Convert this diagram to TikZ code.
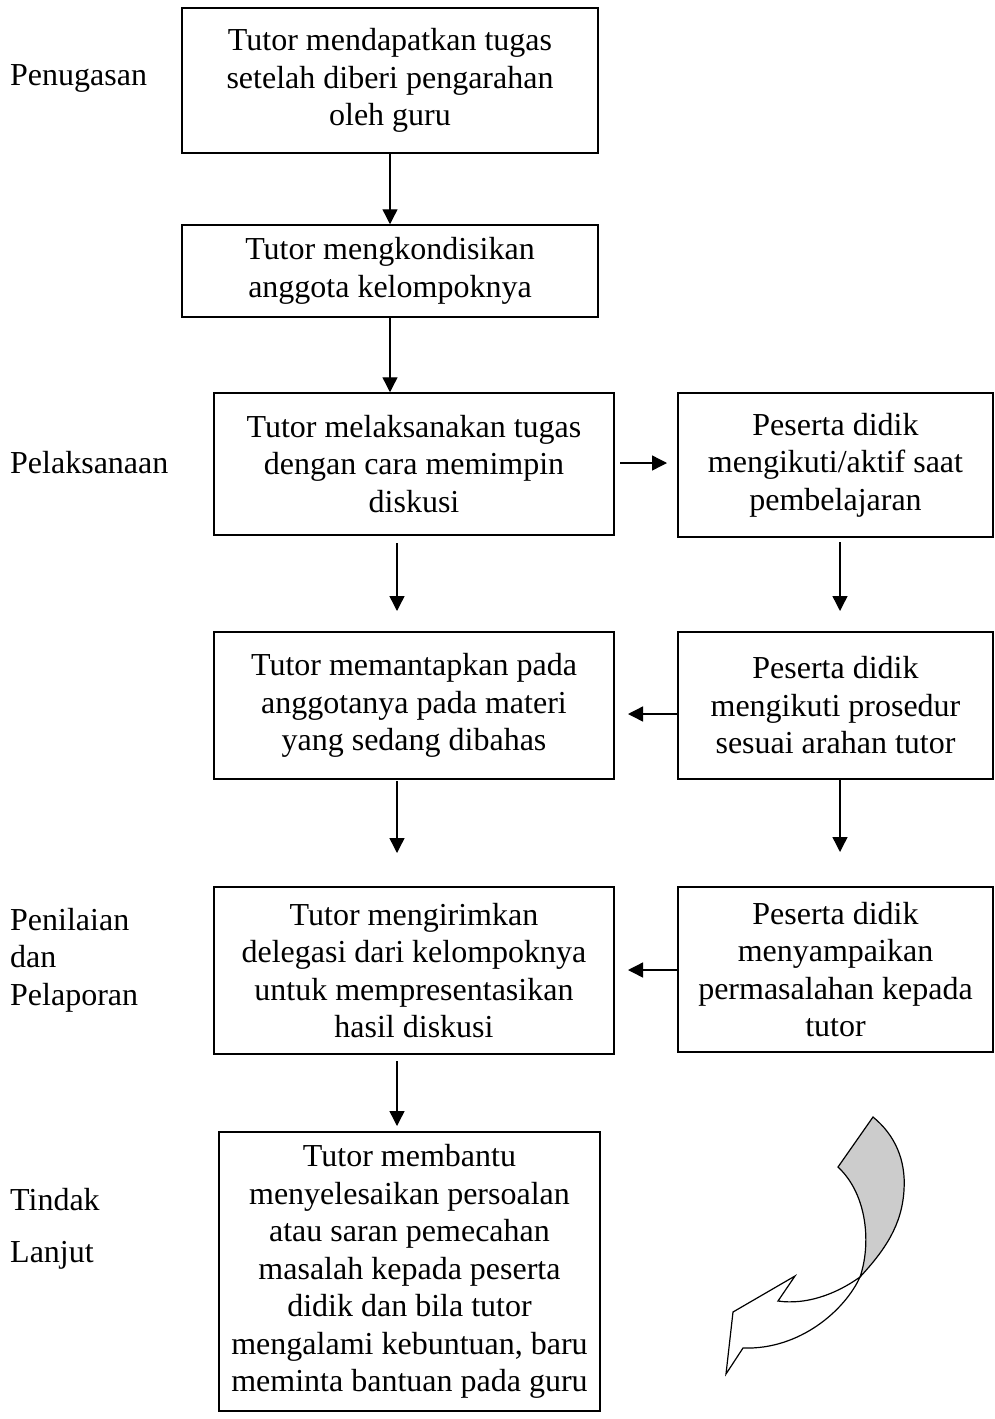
\documentclass[tikz,border=0pt]{standalone}
\usepackage{fontspec}
\setmainfont{Liberation Serif}
\usetikzlibrary{arrows.meta}
\begin{document}
\begin{tikzpicture}[x=1pt,y=-1pt,
  box/.style={draw,line width=1.5pt,align=center,inner sep=0pt,font=\fontsize{32}{37.5}\selectfont},
  lbl/.style={anchor=west,align=left,inner sep=0pt,font=\fontsize{32}{37.5}\selectfont},
  arr/.style={line width=1.4pt,-{Triangle[length=15pt,width=15pt]}}]
\useasboundingbox (0,0) rectangle (994,1419);
% left labels
\node[lbl] (l1) at (10,78) {Penugasan};
\node[lbl] (l2) at (10,463) {Pelaksanaan};
\node[lbl] (l3) at (10,960) {Penilaian\\dan\\Pelaporan};
\node[lbl] (l4) at (10,1200) {Tindak};
\node[lbl] (l5) at (10,1255) {Lanjut};
% boxes
\node[box,minimum width=416pt,minimum height=145pt] (b1) at (390,80.5) {Tutor mendapatkan tugas\\setelah diberi pengarahan\\oleh guru};
\node[box,minimum width=416pt,minimum height=92pt] (b2) at (390,271) {Tutor mengkondisikan\\anggota kelompoknya};
\node[box,minimum width=400pt,minimum height=142pt] (b3) at (414,464) {Tutor melaksanakan tugas\\dengan cara memimpin\\diskusi};
\node[box,minimum width=315pt,minimum height=144pt] (r1) at (835.5,465) {Peserta didik\\mengikuti/aktif saat\\pembelajaran};
\node[box,minimum width=400pt,minimum height=147pt] (b4) at (414,705.5) {Tutor memantapkan pada\\anggotanya pada materi\\yang sedang dibahas};
\node[box,minimum width=315pt,minimum height=147pt] (r2) at (835.5,705.5) {Peserta didik\\mengikuti prosedur\\sesuai arahan tutor};
\node[box,minimum width=400pt,minimum height=167pt] (b5) at (414,970.5) {Tutor mengirimkan\\delegasi dari kelompoknya\\untuk mempresentasikan\\hasil diskusi};
\node[box,minimum width=315pt,minimum height=165pt] (r3) at (835.5,969.5) {Peserta didik\\menyampaikan\\permasalahan kepada\\tutor};
\node[box,minimum width=381pt,minimum height=279pt] (b6) at (409.5,1271.5) {Tutor membantu\\menyelesaikan persoalan\\atau saran pemecahan\\masalah kepada peserta\\didik dan bila tutor\\mengalami kebuntuan, baru\\meminta bantuan pada guru};
% free ends
\coordinate (h1s) at (620,463);
\coordinate (h1e) at (667,463);
\coordinate (v1s) at (397,543);
\coordinate (v1e) at (397,611);
\coordinate (v2s) at (840,542);
\coordinate (v2e) at (840,611);
\coordinate (v3s) at (397,781);
\coordinate (v3e) at (397,853);
\coordinate (v4s) at (840,780);
\coordinate (v4e) at (840,852);
\coordinate (v5s) at (397,1061);
\coordinate (v5e) at (397,1126);
\coordinate (h2e) at (628,714);
\coordinate (h3e) at (628,970);
% connectors
\draw[arr] (b1.south) -- (b2.north);
\draw[arr] (b2.south) -- (b2.south |- b3.north);
\draw[arr] (h1s) -- (h1e);
\draw[arr] (v1s) -- (v1e);
\draw[arr] (v2s) -- (v2e);
\draw[arr] (r2.west |- h2e) -- (h2e);
\draw[arr] (v3s) -- (v3e);
\draw[arr] (v4s) -- (v4e);
\draw[arr] (r3.west |- h3e) -- (h3e);
\draw[arr] (v5s) -- (v5e);
% curved arrow
\draw[line width=1.2pt,fill=white,line join=miter]
  (860,1277) .. controls (845,1310) and (800,1350) .. (743,1348)
  -- (726,1374) -- (733,1312) -- (795,1276) -- (778,1301)
  .. controls (805,1305) and (835,1295) .. (860,1277) -- cycle;
\draw[line width=1.2pt,fill={rgb,255:red,204;green,204;blue,204},line join=miter]
  (838,1167) -- (873,1117)
  .. controls (895,1135) and (906,1160) .. (904,1190)
  .. controls (902,1225) and (885,1250) .. (860,1277)
  .. controls (871,1245) and (868,1195) .. (838,1167) -- cycle;
\end{tikzpicture}
\end{document}
